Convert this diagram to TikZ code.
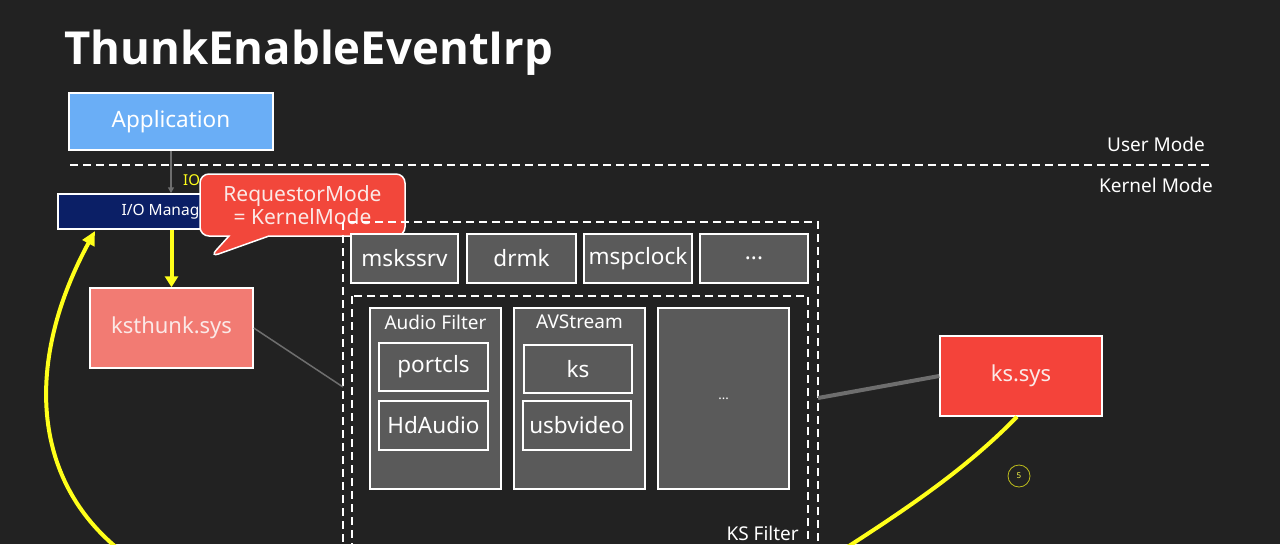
\documentclass[tikz,border=0pt]{standalone}
\usepackage{fontspec}
\setmainfont{Noto Sans}
\newfontfamily\titlefont{Open Sans}
\usetikzlibrary{arrows.meta,shapes.callouts}
\definecolor{bg}{HTML}{222222}
\definecolor{appblue}{HTML}{6AAEF6}
\definecolor{navy}{HTML}{0B1F66}
\definecolor{callred}{HTML}{F2473B}
\definecolor{salmon}{HTML}{F27B73}
\definecolor{ksred}{HTML}{F4433A}
\definecolor{boxgrey}{HTML}{5A5A5A}
\definecolor{linegrey}{HTML}{6E6E6E}
\definecolor{hiyellow}{HTML}{FFFF1A}
\definecolor{txtpink}{HTML}{FBE9E7}
\tikzset{
  box/.style={draw=white, line width=1.5pt, inner sep=0pt, anchor=center, text=white},
  modbox/.style={box, fill=boxgrey, font=\fontsize{22.5}{26}\selectfont},
  dashline/.style={draw=white, line width=1.8pt, dash pattern=on 8pt off 5pt},
  hiarrow/.style={draw=hiyellow, line width=4pt},
  lbl/.style={text=white, inner sep=0pt},
}
\begin{document}
\begin{tikzpicture}[x=1pt,y=-1pt]
\fill[bg] (0,0) rectangle (1280,544);
\useasboundingbox (0,0) rectangle (1280,544);

% title
\node[lbl, anchor=base west, font=\titlefont\bfseries\fontsize{45.5}{50}\selectfont] (title) at (64,64) {ThunkEnableEventIrp};

% mode separator
\coordinate (sepL) at (70,165);
\coordinate (sepR) at (1210,165);
\draw[dashline, line width=1.5pt] (sepL) -- (sepR);
\node[lbl, font=\fontsize{19}{22}\selectfont] (um) at (1156,144) {User Mode};
\node[lbl, font=\fontsize{19}{22}\selectfont] (km) at (1156,185) {Kernel Mode};

% application
\node[box, fill=appblue, minimum width=204pt, minimum height=57pt, font=\fontsize{22.5}{26}\selectfont] (app) at (171,121.5) {Application};

% I/O manager
\node[box, fill=navy, minimum width=220pt, minimum height=35pt, font=\fontsize{15.5}{18}\selectfont] (io) at (168,211.5) {I/O Manager};
\node[lbl, text=hiyellow, anchor=west, font=\fontsize{15}{17}\selectfont] (iotxt) at (183,180) {IO};

\draw[draw=linegrey, line width=1.5pt, -{Triangle[length=6pt,width=6pt]}] (app.south) -- (app.south |- io.north);

% ksthunk
\node[box, fill=salmon, minimum width=163pt, minimum height=80pt, font=\fontsize{22}{26}\selectfont, text=txtpink] (ksthunk) at (171.5,328) {ksthunk.sys};
\draw[hiarrow, -{Triangle[length=11pt,width=13pt]}] (ksthunk.north |- io.south) -- (ksthunk.north);

% callout
\node[rectangle callout, rounded corners=9pt, draw=white, line width=1.5pt, fill=callred, text=txtpink,
      minimum width=205pt, minimum height=62pt, inner sep=0pt, align=center, callout pointer width=40pt,
      font=\fontsize{21}{23}\selectfont, callout absolute pointer={(210,257)}] (callout) at (302.5,205) {RequestorMode\\= KernelMode};

% KS containers
\draw[dashline] (343,222) rectangle (818,560);
\draw[dashline] (352,296) rectangle (808,560);
\node[lbl, anchor=base east, font=\fontsize{19}{22}\selectfont] (ksf) at (799,540) {KS Filter};

% module row
\node[modbox, minimum width=107pt, minimum height=49pt] (msk) at (404.5,258.5) {mskssrv};
\node[modbox, minimum width=109pt, minimum height=49pt] (drmk) at (521.5,258.5) {drmk};
\node[modbox, minimum width=108pt, minimum height=49pt] (mspc) at (638,258.5) {mspclock};
\node[modbox, minimum width=108pt, minimum height=49pt] (rowdots) at (754,258.5) {...};

% filters
\node[box, fill=boxgrey, minimum width=131pt, minimum height=181pt] (af) at (435.5,398.5) {};
\node[lbl, font=\fontsize{19}{22}\selectfont] (aft) at (435.5,322) {Audio Filter};
\node[modbox, minimum width=109pt, minimum height=48pt] (portcls) at (433.5,367) {portcls};
\node[modbox, minimum width=109pt, minimum height=49pt] (hda) at (433.5,425.5) {HdAudio};

\node[box, fill=boxgrey, minimum width=131pt, minimum height=181pt] (avs) at (579.5,398.5) {};
\node[lbl, font=\fontsize{19}{22}\selectfont] (avst) at (579.5,322) {AVStream};
\node[modbox, minimum width=108pt, minimum height=48pt] (ks) at (578,369) {ks};
\node[modbox, minimum width=108pt, minimum height=49pt] (usbv) at (577,425.5) {usbvideo};

\node[box, fill=boxgrey, minimum width=131pt, minimum height=181pt, font=\fontsize{13}{15}\selectfont] (fdots) at (723.5,398.5) {...};

% ksthunk link
\coordinate (ksfL) at (343,387);
\draw[draw=linegrey, line width=1.5pt] (ksthunk.east) -- (ksfL);

% ks.sys
\node[box, fill=ksred, minimum width=162pt, minimum height=80pt, font=\fontsize{22}{26}\selectfont, text=txtpink] (kssys) at (1021,376) {ks.sys};
\coordinate (ksfR) at (818,398);
\draw[draw=linegrey, line width=4pt] (kssys.west) -- (ksfR);

% step marker
\node[circle, draw=hiyellow!70!bg, line width=0.8pt, minimum size=22pt, inner sep=0pt, text=hiyellow!80!white, font=\fontsize{8}{9}\selectfont] (five) at (1019,476) {5};

% yellow curves
\coordinate (curveR) at (835,555);
\draw[hiarrow] ([xshift=-4pt]kssys.south) .. controls (965,470) and (905,510) .. (curveR);
\coordinate (curveL) at (122,552);
\coordinate (ioIn) at (95,231);
\draw[hiarrow, -{Triangle[length=14pt,width=13pt]}] (curveL) .. controls (30,480) and (25,360) .. (ioIn);
\end{tikzpicture}
\end{document}
